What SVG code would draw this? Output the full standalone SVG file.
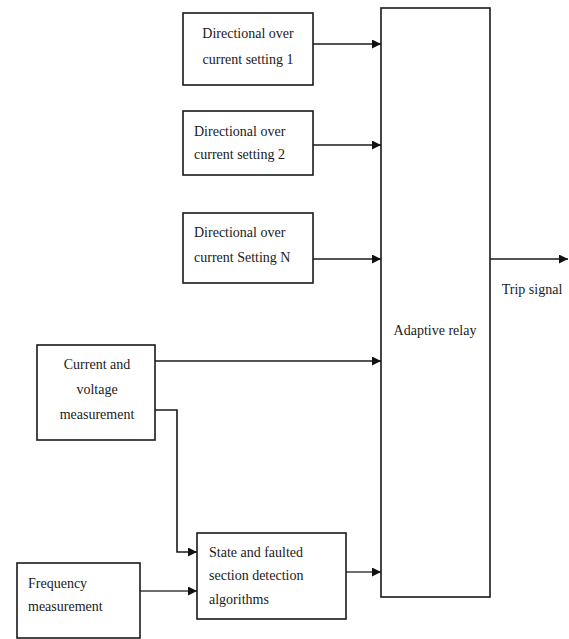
<svg xmlns="http://www.w3.org/2000/svg" width="569" height="639" viewBox="0 0 569 639">
  <style>
    .box { fill: #ffffff; stroke: #1a1a1a; stroke-width: 1.6; }
    .lbl { font-family: "Liberation Serif", "Times New Roman", serif; font-size: 14px; fill: #1a1a1a; }
    .mid { text-anchor: middle; }
    .wire { fill: none; stroke: #1a1a1a; stroke-width: 1.6; }
    .grey { stroke: #6e6e6e; stroke-width: 2; }
  </style>
  <defs>
    <marker id="arrow" viewBox="0 0 10 10" refX="10" refY="5" markerWidth="9" markerHeight="9" markerUnits="userSpaceOnUse" orient="auto">
      <path d="M0,0 L10,5 L0,10 z" fill="#111111"/>
    </marker>
  </defs>
  <rect width="569" height="639" fill="#ffffff"/>

  <!-- connectors -->
  <g id="connectors">
    <line class="wire" x1="313" y1="44" x2="381" y2="44" marker-end="url(#arrow)"/>
    <line class="wire" x1="313" y1="145" x2="381" y2="145" marker-end="url(#arrow)"/>
    <line class="wire" x1="313" y1="259" x2="381" y2="259" marker-end="url(#arrow)"/>
    <line class="wire" x1="155" y1="361" x2="381" y2="361" marker-end="url(#arrow)"/>
    <polyline class="wire" points="155,410 177,410 177,552 197,552" marker-end="url(#arrow)"/>
    <line class="wire grey" x1="140" y1="591" x2="197" y2="591" marker-end="url(#arrow)"/>
    <line class="wire grey" x1="346" y1="572" x2="381" y2="572" marker-end="url(#arrow)"/>
    <line class="wire" x1="490" y1="259" x2="568" y2="259" marker-end="url(#arrow)"/>
  </g>

  <g id="setting1">
    <rect class="box" x="183" y="13" width="130" height="72"/>
    <text class="lbl mid" x="248" y="38">Directional over</text>
    <text class="lbl mid" x="248" y="64">current setting 1</text>
  </g>

  <g id="setting2">
    <rect class="box" x="183" y="111" width="130" height="64"/>
    <text class="lbl" x="194" y="136">Directional over</text>
    <text class="lbl" x="194" y="159">current setting 2</text>
  </g>

  <g id="settingN">
    <rect class="box" x="183" y="213" width="130" height="70"/>
    <text class="lbl" x="194" y="237">Directional over</text>
    <text class="lbl" x="194" y="262">current Setting N</text>
  </g>

  <g id="current-voltage">
    <rect class="box" x="37" y="345" width="118" height="95"/>
    <text class="lbl mid" x="97" y="369">Current and</text>
    <text class="lbl mid" x="97" y="394">voltage</text>
    <text class="lbl mid" x="97" y="419">measurement</text>
  </g>

  <g id="frequency">
    <rect class="box" x="17" y="563" width="123" height="75"/>
    <text class="lbl" x="28" y="588">Frequency</text>
    <text class="lbl" x="28" y="611">measurement</text>
  </g>

  <g id="detection">
    <rect class="box" x="197" y="533" width="149" height="86"/>
    <text class="lbl" x="209" y="557">State and faulted</text>
    <text class="lbl" x="209" y="580">section detection</text>
    <text class="lbl" x="209" y="604">algorithms</text>
  </g>

  <g id="relay">
    <rect class="box" x="381" y="8" width="109" height="589"/>
    <text class="lbl mid" x="435" y="335">Adaptive relay</text>
  </g>

  <g id="trip">
    <text class="lbl mid" x="532" y="294">Trip signal</text>
  </g>
</svg>
